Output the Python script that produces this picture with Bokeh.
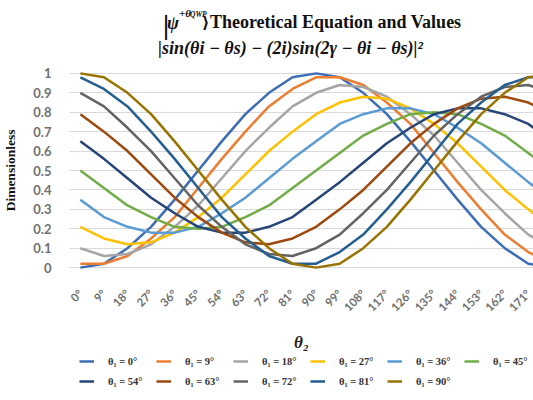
from bokeh.plotting import figure
from bokeh.models import Range1d, FixedTicker, Legend, LegendItem, Label
from bokeh.layouts import column
from bokeh.embed import file_html
from bokeh.resources import INLINE

# theta_2 categories (degrees)
theta2_deg = [0, 9, 18, 27, 36, 45, 54, 63, 72, 81, 90, 99, 108, 117, 126, 135, 144, 153, 162, 171, 180]
tick_labels = [f"{d}°" for d in theta2_deg]

series_names = ["θ₁ = 0°", "θ₁ = 9°", "θ₁ = 18°", "θ₁ = 27°", "θ₁ = 36°", "θ₁ = 45°",
                "θ₁ = 54°", "θ₁ = 63°", "θ₁ = 72°", "θ₁ = 81°", "θ₁ = 90°"]

t1_0 = [0.00, 0.02, 0.10, 0.21, 0.35, 0.50, 0.65, 0.79, 0.90, 0.98, 1.00, 0.98, 0.90, 0.79, 0.65, 0.50, 0.35, 0.21, 0.10, 0.02, 0.00]
t1_9 = [0.02, 0.02, 0.06, 0.15, 0.26, 0.41, 0.56, 0.70, 0.83, 0.92, 0.98, 0.98, 0.94, 0.85, 0.74, 0.59, 0.44, 0.30, 0.17, 0.08, 0.02]
t1_18 = [0.10, 0.06, 0.07, 0.12, 0.21, 0.32, 0.46, 0.60, 0.72, 0.83, 0.90, 0.94, 0.93, 0.88, 0.79, 0.68, 0.54, 0.40, 0.28, 0.17, 0.10]
t1_27 = [0.21, 0.15, 0.12, 0.13, 0.18, 0.26, 0.36, 0.48, 0.60, 0.70, 0.79, 0.85, 0.88, 0.87, 0.82, 0.74, 0.64, 0.52, 0.40, 0.30, 0.21]
t1_36 = [0.35, 0.26, 0.21, 0.18, 0.18, 0.21, 0.28, 0.36, 0.46, 0.56, 0.65, 0.74, 0.79, 0.82, 0.82, 0.79, 0.72, 0.64, 0.54, 0.44, 0.35]
t1_45 = [0.50, 0.41, 0.32, 0.26, 0.21, 0.20, 0.21, 0.26, 0.32, 0.41, 0.50, 0.59, 0.68, 0.74, 0.79, 0.80, 0.79, 0.74, 0.68, 0.59, 0.50]
t1_54 = [0.65, 0.56, 0.46, 0.36, 0.28, 0.21, 0.18, 0.18, 0.21, 0.26, 0.35, 0.44, 0.54, 0.64, 0.72, 0.79, 0.82, 0.82, 0.79, 0.74, 0.65]
t1_63 = [0.79, 0.70, 0.60, 0.48, 0.36, 0.26, 0.18, 0.13, 0.12, 0.15, 0.21, 0.30, 0.40, 0.52, 0.64, 0.74, 0.82, 0.87, 0.88, 0.85, 0.79]
t1_72 = [0.90, 0.83, 0.72, 0.60, 0.46, 0.32, 0.21, 0.12, 0.07, 0.06, 0.10, 0.17, 0.28, 0.40, 0.54, 0.68, 0.79, 0.88, 0.93, 0.94, 0.90]
t1_81 = [0.98, 0.92, 0.83, 0.70, 0.56, 0.41, 0.26, 0.15, 0.06, 0.02, 0.02, 0.08, 0.17, 0.30, 0.44, 0.59, 0.74, 0.85, 0.94, 0.98, 0.98]
t1_90 = [1.00, 0.98, 0.90, 0.79, 0.65, 0.50, 0.35, 0.21, 0.10, 0.02, 0.00, 0.02, 0.10, 0.21, 0.35, 0.50, 0.65, 0.79, 0.90, 0.98, 1.00]

all_series = [t1_0, t1_9, t1_18, t1_27, t1_36, t1_45, t1_54, t1_63, t1_72, t1_81, t1_90]
colors = ["#3C6DB4", "#ED7D31", "#A5A5A5", "#FFC000", "#5B9BD5", "#70AD47",
          "#264478", "#9E480E", "#636363", "#255E91", "#997300"]

xs = list(range(len(theta2_deg)))

TITLE_H = 60
MAIN_H = 295
LEG_H = 400 - TITLE_H - MAIN_H
LEFT = 67

def strip(h):
    # frame aligned with the main chart's frame (x in page pixels from LEFT to 533)
    f = figure(width=533, height=h, output_backend="svg", toolbar_location=None,
               x_range=Range1d(LEFT, 533), y_range=Range1d(h, 0),
               x_axis_type=None, y_axis_type=None, min_border=0,
               min_border_left=LEFT, min_border_right=0)
    f.outline_line_color = None
    f.xgrid.visible = False
    f.ygrid.visible = False
    return f

# ---------- title strip ----------
t = strip(TITLE_H)

def lab(x, y, text, size, style="bold", font="Liberation Serif", color="#111111"):
    t.add_layout(Label(x=x, y=y, text=text,
                       text_font=font, text_font_style=style, text_font_size=size,
                       text_color=color, text_baseline="alphabetic", text_align="left"))

lab(160, 25, "|", "24px", "normal", "DejaVu Sans")
lab(165, 22, "ψ", "18px", "bold italic")
lab(177, 12, "+θ", "11px", "bold italic")
lab(188, 14, "QWP", "7.5px", "bold italic")
lab(200, 22, "⟩", "16px", "bold", "DejaVu Serif")
lab(208, 21, "Theoretical Equation and Values", "18px", "bold")
lab(156, 47, "|sin(θi − θs) − (2i)sin(2γ − θi  −  θs)|²", "18px", "bold italic")

# ---------- main chart ----------
p = figure(width=533, height=MAIN_H, output_backend="svg", toolbar_location=None,
           x_range=Range1d(-0.46, 19.22), y_range=Range1d(-0.02, 1.02),
           min_border_left=LEFT, min_border_right=0, min_border_top=9, min_border_bottom=83)
p.outline_line_color = None
p.background_fill_color = "white"

for ys, c in zip(all_series, colors):
    p.line(xs, ys, line_color=c, line_width=2.5)

p.xaxis.ticker = FixedTicker(ticks=xs)
p.xaxis.major_label_overrides = {i: lab_ for i, lab_ in zip(xs, tick_labels)}
p.xaxis.major_label_orientation = 0.785
p.xaxis.axis_line_color = None
p.xaxis.major_tick_line_color = None
p.xaxis.minor_tick_line_color = None
p.xaxis.major_label_text_font = "Lato"
p.xaxis.major_label_text_font_style = "bold"
p.xaxis.major_label_text_font_size = "11.5px"
p.xaxis.major_label_text_color = "#707070"
p.xaxis.major_label_standoff = 14
p.xaxis.axis_label = "θ₂"
p.xaxis.axis_label_text_font = "Liberation Serif"
p.xaxis.axis_label_text_font_style = "bold italic"
p.xaxis.axis_label_text_font_size = "17px"
p.xaxis.axis_label_text_color = "#222222"
p.xaxis.axis_label_standoff = 12

p.yaxis.ticker = FixedTicker(ticks=[0, 0.1, 0.2, 0.3, 0.4, 0.5, 0.6, 0.7, 0.8, 0.9, 1])
p.yaxis.axis_line_color = None
p.yaxis.major_tick_line_color = None
p.yaxis.minor_tick_line_color = None
p.yaxis.major_label_text_font = "Lato"
p.yaxis.major_label_text_font_style = "bold"
p.yaxis.major_label_text_font_size = "13px"
p.yaxis.major_label_text_color = "#707070"
p.yaxis.major_label_standoff = 12
p.yaxis.axis_label = "Dimensionless"
p.yaxis.axis_label_text_font = "Liberation Serif"
p.yaxis.axis_label_text_font_style = "bold"
p.yaxis.axis_label_text_font_size = "13.5px"
p.yaxis.axis_label_text_color = "#111111"
p.yaxis.axis_label_standoff = 12

p.xgrid.grid_line_color = None
p.ygrid.grid_line_color = "#D9D9D9"
p.ygrid.grid_line_width = 1

# ---------- legend strip ----------
# legend proxies: same series, lying outside the strip's visible range
lg = strip(LEG_H)
leg_renderers = [lg.line(xs, ys, line_color=c, line_width=2.5) for ys, c in zip(all_series, colors)]
items = [LegendItem(label=n, renderers=[r]) for n, r in zip(series_names, leg_renderers)]
common = dict(orientation="horizontal", glyph_width=15, glyph_height=12, label_standoff=14,
              label_width=42, label_height=12, spacing=6, padding=0, margin=0,
              label_text_font="Liberation Serif", label_text_font_style="bold",
              label_text_font_size="10.5px", label_text_color="#333333",
              border_line_color=None, background_fill_alpha=0)
leg1 = Legend(items=items[:6], location=(77 - LEFT, LEG_H - 12), **common)
leg2 = Legend(items=items[6:], location=(77 - LEFT, LEG_H - 32), **common)
lg.add_layout(leg1, "center")
lg.add_layout(leg2, "center")

open("out.html", "w").write(file_html(column(t, p, lg, spacing=0), INLINE))
